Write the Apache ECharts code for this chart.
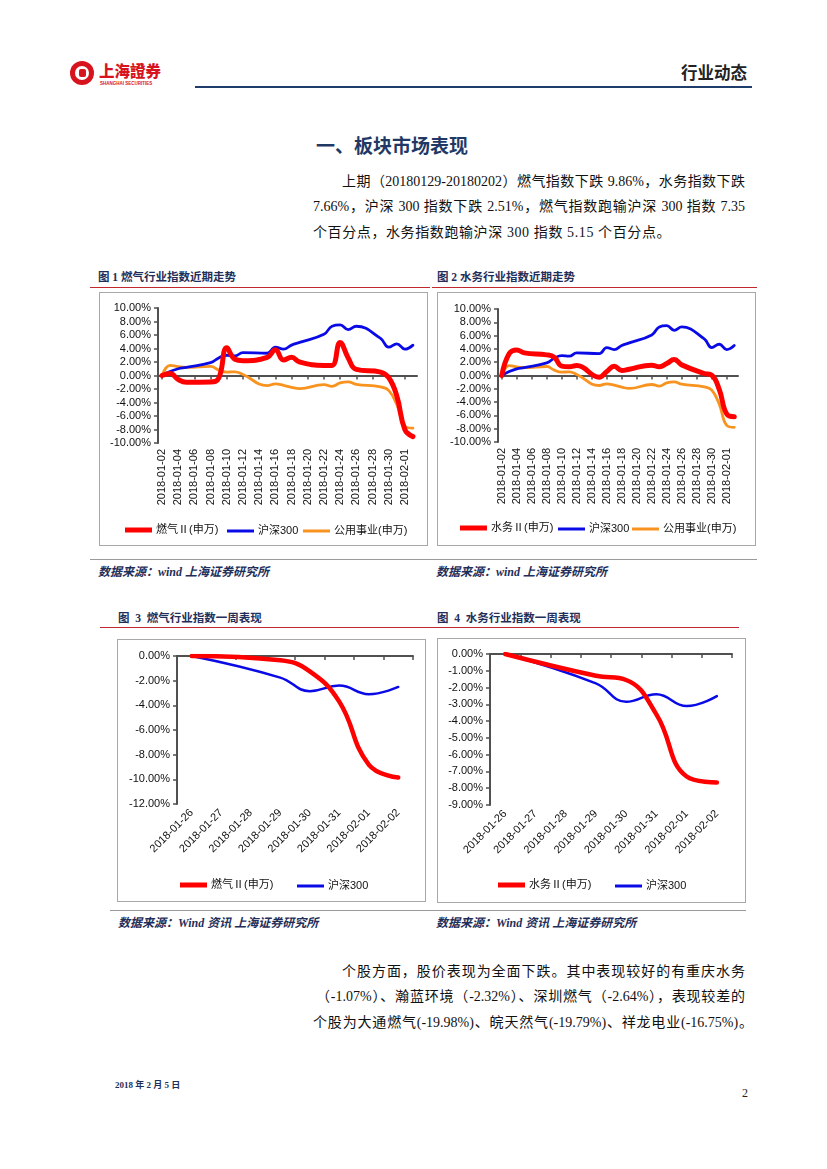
<!DOCTYPE html>
<html><head><meta charset="utf-8">
<script src="https://cdn.jsdelivr.net/npm/echarts@6/dist/echarts.min.js"></script>
<style>
body{margin:0;background:#fff;}
#page{position:relative;width:827px;height:1169px;overflow:hidden;background:#fff;font-family:"Liberation Serif","Noto Sans CJK SC",serif;}
.abs{position:absolute;white-space:nowrap;}
.line{position:absolute;font-size:14px;color:#111;line-height:20px;height:20px;white-space:nowrap;text-align:justify;text-align-last:justify;}
.figt{position:absolute;white-space:nowrap;font-family:"Liberation Serif","Noto Sans CJK SC",serif;font-weight:bold;font-size:11.5px;color:#1f2f5a;line-height:14px;}
.src{position:absolute;white-space:nowrap;font-family:"Liberation Serif","Noto Sans CJK SC",serif;font-weight:bold;font-style:italic;font-size:12px;color:#1f2f5a;line-height:14px;}
.hr{position:absolute;height:0;}
.box{position:absolute;border:1px solid #a8a8a8;box-sizing:border-box;}
</style>
</head>
<body>
<div id="page">
  <!-- header logo -->
  <div class="abs" style="left:70px;top:61px;width:24px;height:24px;border-radius:50%;background:#d7141d;"></div>
  <div class="abs" style="left:75px;top:66px;width:14px;height:14px;border-radius:50%;background:#fff;"></div>
  <div class="abs" style="left:79px;top:69px;width:7px;height:8px;background:#d7141d;border-radius:2px;"></div>
  <div class="abs" style="left:99px;top:60px;font-family:'Noto Sans CJK TC';font-weight:900;font-size:15.5px;color:#d7141d;line-height:20px;letter-spacing:0px;">上海證券</div>
  <div class="abs" style="left:100px;top:81px;font-family:'Liberation Sans';font-weight:bold;font-size:4.5px;color:#d7141d;line-height:6px;">SHANGHAI SECURITIES</div>
  <div class="abs" style="left:681px;top:61px;font-family:'Noto Sans CJK SC';font-weight:bold;font-size:16.5px;color:#222;line-height:22px;">行业动态</div>
  <div class="hr" style="left:195px;top:86px;width:557px;border-top:2px solid #1f3d6b;"></div>

  <!-- section title -->
  <div class="abs" style="left:316px;top:133px;font-family:'Noto Sans CJK SC';font-weight:bold;font-size:19px;color:#1f3864;line-height:24px;">一、板块市场表现</div>

  <div class="line" style="left:342px;top:172px;width:403px;">上期（20180129-20180202）燃气指数下跌 9.86%，水务指数下跌</div>
  <div class="line" style="left:313px;top:197px;width:432px;">7.66%，沪深 300 指数下跌 2.51%，燃气指数跑输沪深 300 指数 7.35</div>
  <div class="line" style="left:313px;top:223px;text-align:left;text-align-last:left;letter-spacing:0.6px;">个百分点，水务指数跑输沪深 300 指数 5.15 个百分点。</div>

  <!-- figure titles row 1 -->
  <div class="figt" style="left:98px;top:270px;">图 1 燃气行业指数近期走势</div>
  <div class="figt" style="left:437px;top:270px;">图 2 水务行业指数近期走势</div>
  <div class="hr" style="left:90px;top:287px;width:340px;border-top:1.2px solid #c0282d;"></div>
  <div class="hr" style="left:432px;top:287px;width:325px;border-top:1.2px solid #c0282d;"></div>

  <div class="box" style="left:99px;top:292px;width:329px;height:254px;"></div>
  <div class="box" style="left:437px;top:292px;width:319px;height:254px;"></div>
  <div id="c1" class="abs" style="left:99px;top:292px;width:328px;height:253px;"></div>
  <div id="c2" class="abs" style="left:437px;top:292px;width:318px;height:253px;"></div>

  <div class="hr" style="left:90px;top:559px;width:667px;border-top:1px solid #9a9a9a;"></div>
  <div class="src" style="left:98px;top:565px;">数据来源：wind 上海证券研究所</div>
  <div class="src" style="left:436px;top:565px;">数据来源：wind 上海证券研究所</div>

  <!-- figure titles row 2 -->
  <div class="figt" style="left:118px;top:611px;">图&nbsp; 3&nbsp; 燃气行业指数一周表现</div>
  <div class="figt" style="left:437px;top:611px;">图&nbsp; 4&nbsp; 水务行业指数一周表现</div>
  <div class="hr" style="left:100px;top:627px;width:330px;border-top:1.2px solid #c0282d;"></div>
  <div class="hr" style="left:430px;top:627px;width:309px;border-top:1.2px solid #c0282d;"></div>

  <div class="box" style="left:117px;top:639px;width:309px;height:263px;"></div>
  <div class="box" style="left:437px;top:638px;width:309px;height:265px;"></div>
  <div id="c3" class="abs" style="left:117px;top:639px;width:308px;height:262px;"></div>
  <div id="c4" class="abs" style="left:437px;top:638px;width:308px;height:264px;"></div>

  <div class="hr" style="left:110px;top:910px;width:636px;border-top:1px solid #9a9a9a;"></div>
  <div class="src" style="left:118px;top:916px;">数据来源：Wind 资讯 上海证券研究所</div>
  <div class="src" style="left:436px;top:916px;">数据来源：Wind 资讯 上海证券研究所</div>

  <div class="line" style="left:342px;top:962px;width:403px;">个股方面，股价表现为全面下跌。其中表现较好的有重庆水务</div>
  <div class="line" style="left:316px;top:987px;width:429px;">（-1.07%）、瀚蓝环境（-2.32%）、深圳燃气（-2.64%），表现较差的</div>
  <div class="line" style="left:313px;top:1013px;width:440px;">个股为大通燃气(-19.98%)、皖天然气(-19.79%)、祥龙电业(-16.75%)。</div>

  <div class="abs" style="left:115px;top:1079px;font-family:'Liberation Serif','Noto Sans CJK SC';font-weight:bold;font-size:9px;color:#1f2f5a;line-height:12px;">2018 年 2 月 5 日</div>
  <div class="abs" style="left:742px;top:1085px;font-family:'Liberation Serif';font-size:12px;color:#222;line-height:16px;">2</div>
</div>

<script>
// ---------- data ----------
const monthDates = ['2018-01-02','2018-01-03','2018-01-04','2018-01-05','2018-01-06','2018-01-07','2018-01-08','2018-01-09','2018-01-10','2018-01-11','2018-01-12','2018-01-13','2018-01-14','2018-01-15','2018-01-16','2018-01-17','2018-01-18','2018-01-19','2018-01-20','2018-01-21','2018-01-22','2018-01-23','2018-01-24','2018-01-25','2018-01-26','2018-01-27','2018-01-28','2018-01-29','2018-01-30','2018-01-31','2018-02-01','2018-02-02'];
const gasMonth   = [0, 0.3, -0.6, -1.0, null, null, -0.95, -0.4, 4.1, 2.4, 2.2, null, null, 2.7, 3.8, 2.3, 2.7, 2.0, null, null, 1.5, 1.5, 4.9, 2.6, 0.9, null, null, 0.5, -0.3, -3.0, -8.0, -9.05];
const waterMonth = [0, 3.3, 3.85, 3.4, null, null, 3.1, 2.75, 1.4, 1.3, 1.5, null, null, -0.25, 0.6, 1.4, 0.75, 0.95, null, null, 1.55, 1.3, 1.8, 2.4, 1.6, null, null, 0.3, 0.05, -2.1, -5.8, -6.2];
const hs300Month = [0, 0.6, 1.0, 1.2, null, null, 1.9, 2.6, 3.0, 2.9, 3.4, null, null, 3.3, 4.2, 3.9, 4.5, 4.9, null, null, 6.1, 7.3, 7.5, 6.8, 7.3, null, null, 5.5, 4.2, 4.7, 3.9, 4.5];
const utilMonth  = [0, 1.5, 1.3, 1.2, null, null, 1.35, 0.8, 0.5, 0.55, 0.15, null, null, -1.5, -1.25, -1.45, -1.75, -1.95, null, null, -1.35, -1.6, -1.1, -0.95, -1.3, null, null, -1.7, -2.2, -4.3, -7.5, -7.8];

const weekDates  = ['2018-01-26','2018-01-27','2018-01-28','2018-01-29','2018-01-30','2018-01-31','2018-02-01','2018-02-02'];
const gasWeek    = [0, null, null, -0.35, -1.25, -3.7, -8.8, -9.86];
const waterWeek  = [0, null, null, -1.3, -1.55, -3.6, -7.3, -7.66];
const hs300Week  = [0, null, null, -1.75, -2.85, -2.4, -3.1, -2.51];

const monthYTicks = {min: -10, max: 10, interval: 2};
const gasWeekYTicks = {min: -12, max: 0, interval: 2};
const waterWeekYTicks = {min: -9, max: 0, interval: 1};

const NAME_GAS = '燃气Ⅱ(申万)', NAME_WATER = '水务Ⅱ(申万)', NAME_HS = '沪深300', NAME_UTIL = '公用事业(申万)';
// ---------- styling ----------
const RED = '#ff0000', BLUE = '#0a0ae6', ORANGE = '#f7931e';
const FONT = 'Liberation Sans, Arial, Noto Sans CJK SC, sans-serif';
const axisLine = {show: true, lineStyle: {color: '#505050', width: 2}};
const axisTick = {show: true, length: 4, lineStyle: {color: '#505050', width: 1.5}};

function series(name, data, color, width) {
  return {name, type: 'line', data, smooth: 0.45, connectNulls: true, symbol: 'none',
    lineStyle: {color, width, cap: 'round', join: 'round'}, itemStyle: {color}};
}
function legendItem(name, left, cy, h) {
  return {data: [name], left, top: cy - h / 2, icon: 'rect', itemWidth: 27, itemHeight: h, itemGap: 0,
    textStyle: {fontFamily: FONT, fontSize: 11, color: '#111', padding: [0, 0, 0, -1]}, padding: 0, selectedMode: false};
}
function yAxis(t) {
  return {type: 'value', min: t.min, max: t.max, interval: t.interval, splitLine: {show: false},
    axisLine, axisTick, axisLabel: {fontFamily: FONT, fontSize: 11, color: '#111', margin: 7,
      formatter: v => v.toFixed(2) + '%'}};
}
const monthTick = Object.assign({}, axisTick, {interval: 1, alignWithLabel: true});

// Chart 1
echarts.init(document.getElementById('c1')).setOption({
  animation: false,
  grid: {left: 59, top: 16, width: 259, height: 135},
  xAxis: {type: 'category', data: monthDates, boundaryGap: true, axisLine, axisTick: monthTick,
    axisLabel: {rotate: 90, interval: 1, fontFamily: FONT, fontSize: 11, color: '#111', margin: 6}},
  yAxis: yAxis(monthYTicks),
  legend: [legendItem(NAME_GAS, 26, 235, 5), legendItem(NAME_HS, 128, 235, 3), legendItem(NAME_UTIL, 204, 235, 3)],
  series: [series(NAME_UTIL, utilMonth, ORANGE, 2.8), series(NAME_HS, hs300Month, BLUE, 2.8), series(NAME_GAS, gasMonth, RED, 5)]
});
// Chart 2
echarts.init(document.getElementById('c2')).setOption({
  animation: false,
  grid: {left: 61, top: 17, width: 240, height: 133},
  xAxis: {type: 'category', data: monthDates, boundaryGap: true, axisLine, axisTick: monthTick,
    axisLabel: {rotate: 90, interval: 1, fontFamily: FONT, fontSize: 11, color: '#111', margin: 6}},
  yAxis: yAxis(monthYTicks),
  legend: [legendItem(NAME_WATER, 23, 233, 5), legendItem(NAME_HS, 121, 233, 3), legendItem(NAME_UTIL, 195, 233, 3)],
  series: [series(NAME_UTIL, utilMonth, ORANGE, 2.8), series(NAME_HS, hs300Month, BLUE, 2.8), series(NAME_WATER, waterMonth, RED, 5)]
});
// Chart 3
echarts.init(document.getElementById('c3')).setOption({
  animation: false,
  grid: {left: 60, top: 17, width: 236, height: 148},
  xAxis: {type: 'category', data: weekDates, boundaryGap: true, axisLine, axisTick,
    axisLabel: {rotate: 45, interval: 0, fontFamily: FONT, fontSize: 11, color: '#111', margin: 7}},
  yAxis: yAxis(gasWeekYTicks),
  legend: [legendItem(NAME_GAS, 63, 243, 5), legendItem(NAME_HS, 180, 243, 3)],
  series: [series(NAME_HS, hs300Week, BLUE, 2.5), series(NAME_GAS, gasWeek, RED, 4.5)]
});
// Chart 4
echarts.init(document.getElementById('c4')).setOption({
  animation: false,
  grid: {left: 53, top: 16, width: 242, height: 151},
  xAxis: {type: 'category', data: weekDates, boundaryGap: true, axisLine, axisTick,
    axisLabel: {rotate: 45, interval: 0, fontFamily: FONT, fontSize: 11, color: '#111', margin: 7}},
  yAxis: yAxis(waterWeekYTicks),
  legend: [legendItem(NAME_WATER, 61, 244, 5), legendItem(NAME_HS, 178, 244, 3)],
  series: [series(NAME_HS, hs300Week, BLUE, 2.5), series(NAME_WATER, waterWeek, RED, 4.5)]
});
</script>
</body></html>
